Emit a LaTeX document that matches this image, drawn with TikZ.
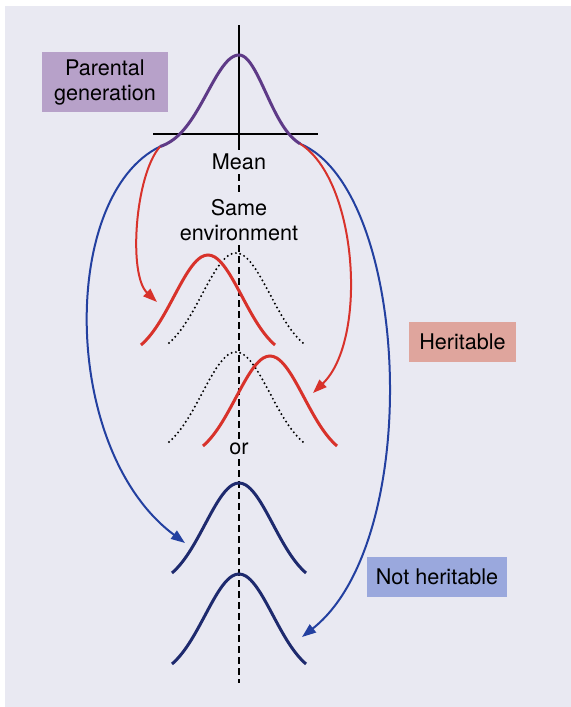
\documentclass[tikz,border=0pt]{standalone}
\usepackage{fontspec}
\setsansfont{TeX Gyre Heros}
\usetikzlibrary{arrows.meta}
\definecolor{page}{HTML}{E9E9F2}
\definecolor{plum}{HTML}{5E3A87}
\definecolor{lilac}{HTML}{B7A1C9}
\definecolor{brick}{HTML}{D8322B}
\definecolor{salmon}{HTML}{DFA59D}
\definecolor{royal}{HTML}{2340A0}
\definecolor{navy}{HTML}{1E2A6E}
\definecolor{periwinkle}{HTML}{9AA8DD}
\tikzset{
  word/.style={font=\sffamily\fontsize{10.8pt}{12.5pt}\selectfont, text=black,
    align=center, inner sep=2pt},
  badge/.style={word, minimum height=20pt, inner xsep=4pt},
  axisline/.style={line width=1.2pt, draw=black},
  meanline/.style={line width=1.3pt, dash pattern=on 3.5pt off 2pt},
  purplebell/.style={draw=plum, line width=1.5pt},
  redbell/.style={draw=brick, line width=1.5pt},
  bluebell/.style={draw=navy, line width=1.5pt},
  ghostbell/.style={draw=black, line width=1.1pt, dash pattern=on 0pt off 2.2pt,
    line cap=round},
  arrow/.style={-{Triangle[length=7pt,width=5pt]}, line width=1pt},
  pics/bell/.style={code={
    \draw[#1] plot[domain=-67:67, samples=41, smooth]
      (\x, {90*(1-exp(-(\x/48)*(\x/48)))/(1-exp(-(67/48)*(67/48)))});
  }}
}
\begin{document}
\begin{tikzpicture}[x=0.5pt, y=-0.5pt]
  \useasboundingbox (0,0) rectangle (571,707);
  \fill[white] (0,0) rectangle (571,707);
  \fill[page] (5,6) rectangle (571,707);

  % labels on the mean axis
  \node[word] (mean) at (239,162) {Mean};
  \node[word] (env) at (239,220) {Same\\environment};
  \node[word] (or) at (239,449) {or};

  \node[badge, fill=lilac, minimum width=63pt, minimum height=30pt] (parent)
    at (105,82) {Parental\\generation};
  \node[badge, fill=salmon, minimum width=53.5pt] (herit) at (462.5,342) {Heritable};
  \node[badge, fill=periwinkle, minimum width=70pt] (noherit) at (437,576.5) {Not heritable};

  \coordinate (axtop) at (239,25);
  \coordinate (axbot) at (239,683);
  \coordinate (baseL) at (153,134);
  \coordinate (baseR) at (318,134);

  \draw[axisline] (axtop) -- (mean.north);
  \draw[axisline] (baseL) -- (baseR);
  \draw[meanline] (mean.south) -- (env.north);
  \draw[meanline] (env.south) -- (or.north);
  \draw[meanline] (or.south) -- (axbot);

  % parental distribution
  \draw[purplebell] plot[domain=-79:0, samples=40, smooth]
      ({239+\x}, {55+96*(1-exp(-(\x/45)*(\x/45)))})
    -- plot[domain=0:61, samples=32, smooth]
      ({239+\x}, {55+96*(1-exp(-(\x/38)*(\x/38)))});
  \coordinate (splitL) at (160,146.6);
  \coordinate (splitR) at (300,143.7);

  % offspring distributions
  \pic at (236,253) {bell=ghostbell};
  \pic at (236,352) {bell=ghostbell};
  \pic at (208,255) {bell=redbell};
  \pic at (270,356) {bell=redbell};
  \pic at (239,483) {bell=bluebell};
  \pic at (239,574) {bell=bluebell};

  \coordinate (tipRL) at (157,302);
  \coordinate (tipRR) at (313,393);
  \coordinate (tipBL) at (185,543);
  \coordinate (tipBR) at (302,637);

  \draw[arrow, royal] (splitL) .. controls (60,195) and (60,450) .. (tipBL);
  \draw[arrow, royal] (splitR) .. controls (410,190) and (425,540) .. (tipBR);
  \draw[arrow, brick] (splitL) .. controls (135,175) and (128,275) .. (tipRL);
  \draw[arrow, brick] (splitR) .. controls (358,180) and (368,340) .. (tipRR);
\end{tikzpicture}
\end{document}
